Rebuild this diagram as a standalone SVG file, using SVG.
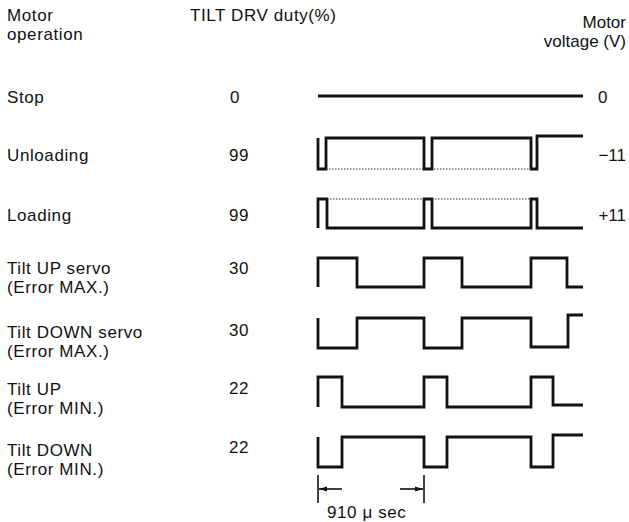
<svg xmlns="http://www.w3.org/2000/svg" width="629" height="522" viewBox="0 0 629 522">
<style>
text{font-family:"Liberation Sans",Arial,sans-serif;font-size:17px;letter-spacing:0.6px;fill:#111}
.r{text-anchor:end;letter-spacing:0}
.w{fill:none;stroke:#111;stroke-width:2.8;stroke-linejoin:miter}
.d{fill:none;stroke:#333;stroke-width:1.2;stroke-dasharray:1.5 1.5}
.t{fill:none;stroke:#111;stroke-width:1.6}
</style>
<defs>
<marker id="ah" viewBox="0 0 10 10" refX="10" refY="5" markerWidth="8" markerHeight="8" orient="auto-start-reverse" markerUnits="userSpaceOnUse">
<path d="M0,2 L10,5 L0,8 Z" fill="#111"/>
</marker>
</defs>
<g id="headers">
<text x="7" y="20.5">Motor</text>
<text x="7" y="39.5">operation</text>
<text x="190" y="21">TILT DRV duty(%)</text>
<text class="r" x="626" y="27.5">Motor</text>
<text class="r" x="626" y="46.5">voltage (V)</text>
</g>
<g id="row-stop">
<text x="7" y="103">Stop</text>
<text x="230" y="103">0</text>
<text x="598" y="103">0</text>
</g>
<g id="row-unloading">
<text x="7" y="161">Unloading</text>
<text x="229" y="161">99</text>
<text class="r" x="626" y="161">−11</text>
</g>
<g id="row-loading">
<text x="7" y="221">Loading</text>
<text x="229" y="221">99</text>
<text class="r" x="626" y="221">+11</text>
</g>
<g id="row-upservo">
<text x="7" y="273.5">Tilt UP servo</text>
<text x="7" y="292.5">(Error MAX.)</text>
<text x="229" y="274">30</text>
</g>
<g id="row-downservo">
<text x="7" y="337.5">Tilt DOWN servo</text>
<text x="7" y="356.5">(Error MAX.)</text>
<text x="229" y="336">30</text>
</g>
<g id="row-up">
<text x="7" y="394.5">Tilt UP</text>
<text x="7" y="413.5">(Error MIN.)</text>
<text x="229" y="394">22</text>
</g>
<g id="row-down">
<text x="7" y="455.5">Tilt DOWN</text>
<text x="7" y="474.5">(Error MIN.)</text>
<text x="229" y="453">22</text>
</g>
<g id="waveforms">
<line class="w" x1="318" y1="96" x2="583" y2="96"/>
<path class="w" d="M318,138 V169 H326 V138 H424 V169 H432 V138 H531 V169 H537 V136 H583"/>
<line class="d" x1="326" y1="169" x2="531" y2="169"/>
<path class="w" d="M318,228 V199 H327 V228 H424 V199 H432 V228 H531 V199 H537 V228 H583"/>
<line class="d" x1="327" y1="199" x2="531" y2="199"/>
<path class="w" d="M318,287 V258 H357 V287 H424 V258 H462 V287 H531 V258 H567 V287 H583"/>
<path class="w" d="M318,318 V348 H357 V318 H424 V348 H462 V318 H531 V347 H568 V315 H583"/>
<path class="w" d="M318,407 V377 H342 V407 H424 V377 H447 V407 H531 V377 H553 V405 H583"/>
<path class="w" d="M318,437 V467 H342 V437 H424 V467 H447 V437 H531 V467 H553 V435 H583"/>
</g>
<g id="dimension">
<line class="t" x1="318" y1="475" x2="318" y2="503"/>
<line class="t" x1="424" y1="475" x2="424" y2="503"/>
<line class="t" x1="342" y1="489" x2="319" y2="489" marker-end="url(#ah)"/>
<line class="t" x1="400" y1="489" x2="423" y2="489" marker-end="url(#ah)"/>
<text x="327" y="518">910 μ sec</text>
</g>
</svg>
